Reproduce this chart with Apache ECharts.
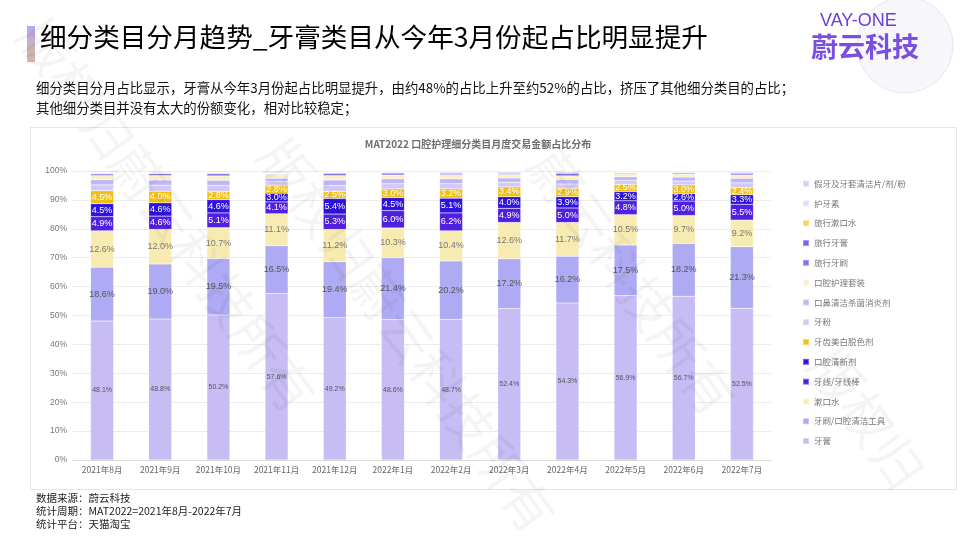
<!DOCTYPE html>
<html>
<head>
<meta charset="utf-8">
<script src="https://cdn.jsdelivr.net/npm/echarts@6/dist/echarts.min.js"></script>
<style>
  html, body { margin: 0; padding: 0; background: #fff; }
  #main { width: 960px; height: 540px; }
</style>
</head>
<body>
<div id="main"></div>
<script>
var months = ['2021年8月', '2021年9月', '2021年10月', '2021年11月', '2021年12月', '2022年1月',
  '2022年2月', '2022年3月', '2022年4月', '2022年5月', '2022年6月', '2022年7月'];

// stacked from bottom to top
var seriesNames = ['牙膏', '牙刷/口腔清洁工具', '漱口水', '牙线/牙线棒', '口腔清新剂', '牙齿美白脱色剂',
  '牙粉', '口鼻清洁杀菌消炎剂', '口腔护理套装', '旅行牙刷', '旅行牙膏', '旅行漱口水', '护牙素', '假牙及牙套清洁片/剂/粉'];

var yagao      = [48.1, 48.8, 50.2, 57.6, 49.2, 48.6, 48.7, 52.4, 54.3, 56.9, 56.7, 52.5];
var yashua     = [18.6, 19.0, 19.5, 16.5, 19.4, 21.4, 20.2, 17.2, 16.2, 17.5, 18.2, 21.3];
var shukoushui = [12.6, 12.0, 10.7, 11.1, 11.2, 10.3, 10.4, 12.6, 11.7, 10.5, 9.7, 9.2];
var yaxian     = [4.9, 4.6, 5.1, 4.1, 5.3, 6.0, 6.2, 4.9, 5.0, 4.8, 5.0, 5.5];
var qingxin    = [4.5, 4.6, 4.6, 3.0, 5.4, 4.5, 5.1, 4.0, 3.9, 3.2, 2.6, 3.3];
var meibai     = [4.5, 4.0, 2.8, 2.8, 2.5, 3.0, 3.2, 3.4, 2.9, 2.5, 3.0, 2.4];
var yafen      = [2.0, 2.1, 2.1, 1.2, 2.0, 1.8, 1.8, 1.6, 1.5, 1.3, 1.3, 1.7];
var koubi      = [1.8, 1.8, 1.8, 1.2, 1.9, 1.7, 1.7, 1.5, 1.6, 1.3, 1.4, 1.6];
var taozhuang  = [1.4, 1.5, 1.5, 1.3, 1.5, 1.3, 1.4, 1.2, 1.2, 1.0, 1.0, 1.1];
var lvxingYashua = [0.6, 0.7, 0.8, 0.2, 0.8, 0.7, 0.5, 0.4, 0.9, 0.3, 0.4, 0.6];
var lvxingYagao  = [0.2, 0.2, 0.2, 0.1, 0.2, 0.2, 0.3, 0.3, 0.3, 0.2, 0.2, 0.3];
var lvxingShukou = [0.2, 0.2, 0.2, 0.1, 0.2, 0.1, 0.1, 0.1, 0.1, 0.1, 0.1, 0.1];
var huyasu     = [0.2, 0.2, 0.2, 0.3, 0.2, 0.2, 0.2, 0.2, 0.2, 0.2, 0.2, 0.2];
var jiaya      = [0.4, 0.3, 0.3, 0.5, 0.2, 0.2, 0.2, 0.2, 0.2, 0.2, 0.2, 0.2];

var seriesData = [yagao, yashua, shukoushui, yaxian, qingxin, meibai, yafen, koubi, taozhuang,
  lvxingYashua, lvxingYagao, lvxingShukou, huyasu, jiaya];

var colors = ['#c7bcf4', '#aeaaf3', '#f8ebb2', '#5020e0', '#2e12e0', '#f0c018', '#d3c9f6', '#bfb7f5',
  '#fcefc6', '#8a6ee9', '#7466e9', '#f5d258', '#e1dbf7', '#d6cef4'];

var labelColors = ['#555', '#555', '#777', '#fff', '#fff', '#fff'];
var labelSizes = [7, 9, 9, 9, 9, 9];

var font = '"Noto Sans CJK SC", "Noto Sans", sans-serif';

var series = seriesNames.map(function (name, i) {
  return {
    name: name,
    type: 'bar',
    stack: 'total',
    barWidth: 23,
    data: seriesData[i],
    itemStyle: { color: colors[i], borderColor: 'rgba(255,255,255,0.35)', borderWidth: 0.5 },
    label: {
      show: i < 6,
      position: 'inside',
      color: labelColors[i] || '#555',
      fontSize: labelSizes[i] || 9,
      fontFamily: 'Liberation Sans, Arial, sans-serif',
      formatter: function (p) { return p.value.toFixed(1) + '%'; }
    }
  };
});

var watermarks = [
  { x: 10, y: 10, text: '版权归蔚云科技所有' },
  { x: 250, y: 130, text: '版权归蔚云科技所有' },
  { x: 520, y: 140, text: '蔚云科技所有' },
  { x: 800, y: 340, text: '版权归' }
].map(function (w) {
  return {
    type: 'text', left: w.x, top: w.y, rotation: -0.95, z: 100, silent: true,
    style: { text: w.text, fill: 'rgba(0,0,0,0.045)', font: '52px ' + font }
  };
});

var chart = echarts.init(document.getElementById('main'));
chart.setOption({
  backgroundColor: '#fff',
  animation: false,
  color: colors,
  title: {
    text: 'MAT2022 口腔护理细分类目月度交易金额占比分布',
    left: 473, top: 134, textAlign: 'center',
    textStyle: { fontSize: 10, fontWeight: 'bold', color: '#6e6e6e', fontFamily: font }
  },
  legend: {
    orient: 'vertical',
    left: 797, top: 173,
    itemWidth: 6, itemHeight: 6, itemGap: 8.5,
    icon: 'rect',
    data: seriesNames.slice().reverse(),
    textStyle: { fontSize: 8.5, color: '#777', fontFamily: font, lineHeight: 11.3 }
  },
  grid: { left: 73, right: 189, top: 171, bottom: 80 },
  xAxis: {
    type: 'category',
    data: months,
    axisLine: { lineStyle: { color: '#d9d9d9' } },
    axisTick: { show: false },
    axisLabel: { interval: 0, fontSize: 8.5, color: '#666', fontFamily: font, margin: 6 }
  },
  yAxis: {
    type: 'value', min: 0, max: 100, interval: 10,
    axisLine: { show: false }, axisTick: { show: false },
    axisLabel: { formatter: '{value}%', fontSize: 8.5, color: '#777', fontFamily: 'Liberation Sans, Arial, sans-serif', margin: 6 },
    splitLine: { lineStyle: { color: '#ececec' } }
  },
  series: series,
  graphic: [
    // chart frame
    { type: 'rect', shape: { x: 30.5, y: 127.5, width: 926, height: 362 }, style: { fill: 'none', stroke: '#e6e6e6', lineWidth: 1 }, z: -1 },
    // header accent bar
    { type: 'rect', shape: { x: 27, y: 26, width: 8, height: 36 },
      style: { fill: new echarts.graphic.LinearGradient(0, 0, 0, 1, [{ offset: 0, color: '#b9a6f0' }, { offset: 1, color: '#d9b99a' }]) } },
    { type: 'text', left: 40, top: 24,
      style: { text: '细分类目分月趋势_牙膏类目从今年3月份起占比明显提升', font: '26.6px ' + font,
        fill: new echarts.graphic.LinearGradient(0, 0, 1, 0, [{ offset: 0, color: '#6a3fe0' }, { offset: 1, color: '#3f22d0' }]) } },
    // logo
    { type: 'circle', shape: { cx: 905, cy: 45, r: 48 }, style: { fill: 'rgba(225,225,240,0.25)', stroke: 'rgba(210,210,225,0.5)', lineWidth: 1 } },
    { type: 'text', left: 820, top: 12, style: { text: 'VAY-ONE', font: '18px "Liberation Sans", sans-serif', fill: '#6a3fd8' } },
    { type: 'text', left: 811, top: 33, style: { text: '蔚云科技', font: 'bold 27px ' + font, fill: '#7a4fe0' } },
    // description
    { type: 'text', left: 36, top: 78,
      style: { text: '细分类目分月占比显示，牙膏从今年3月份起占比明显提升，由约48%的占比上升至约52%的占比，挤压了其他细分类目的占比；\n其他细分类目并没有太大的份额变化，相对比较稳定；',
        font: '13.4px ' + font, fill: '#111', lineHeight: 20 } },
    // footer
    { type: 'text', left: 36, top: 492,
      style: { text: '数据来源：蔚云科技\n统计周期：MAT2022=2021年8月-2022年7月\n统计平台：天猫淘宝',
        font: '10.5px ' + font, fill: '#222', lineHeight: 13 } }
  ].concat(watermarks)
});
</script>
</body>
</html>
